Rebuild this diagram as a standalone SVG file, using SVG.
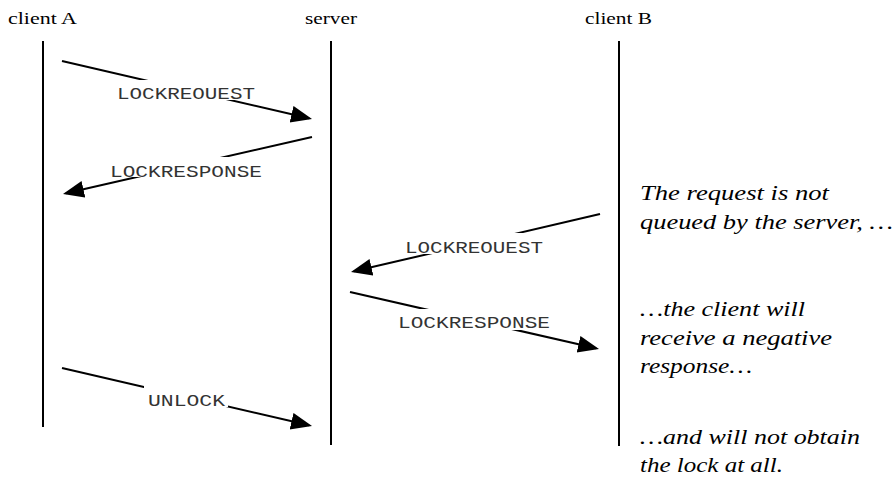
<svg xmlns="http://www.w3.org/2000/svg" width="895" height="485" viewBox="0 0 895 485">
<style>
.hdr{font-family:"Liberation Serif","Times New Roman",serif;font-size:17px;fill:#000}
.lbl{font-family:"Liberation Mono","Courier New",monospace;font-size:17px;fill:#333}
.note{font-family:"Liberation Serif","Times New Roman",serif;font-style:italic;font-size:22px;fill:#000}
.life{stroke:#000;stroke-width:2;fill:none}
.msg{stroke:#000;stroke-width:2;fill:none;marker-end:url(#ah)}
.mask{fill:#fff}
</style>
<defs>
<marker id="ah" markerUnits="userSpaceOnUse" markerWidth="22" markerHeight="18" refX="18" refY="8.5" orient="auto">
<path d="M0,0 L21,8.5 L0,17 z" fill="#000"/>
</marker>
</defs>
<rect width="895" height="485" fill="#fff"/>
<g id="clientA">
<text class="hdr" x="8" y="24" textLength="69" lengthAdjust="spacingAndGlyphs">client A</text>
<line class="life" x1="43" y1="41" x2="43" y2="427"/>
</g>
<g id="server">
<text class="hdr" x="305" y="24" textLength="52" lengthAdjust="spacingAndGlyphs">server</text>
<line class="life" x1="331" y1="41" x2="331" y2="445"/>
</g>
<g id="clientB">
<text class="hdr" x="585" y="24" textLength="67" lengthAdjust="spacingAndGlyphs">client B</text>
<line class="life" x1="619" y1="41" x2="619" y2="446"/>
</g>
<g id="connectors">
<g id="m1">
<line class="msg" x1="62" y1="61" x2="309.1" y2="118.3"/>
<rect class="mask" x="114" y="80" width="145" height="20"/>
<text class="lbl" x="117" y="99" textLength="138" lengthAdjust="spacingAndGlyphs">LOCKREOUEST</text>
</g>
<g id="m2">
<line class="msg" x1="312" y1="137" x2="65.9" y2="193.3"/>
<rect class="mask" x="107" y="157" width="158" height="20"/>
<text class="lbl" x="110" y="177" textLength="152" lengthAdjust="spacingAndGlyphs">LOCKRESPONSE</text>
</g>
<g id="m3">
<line class="msg" x1="600" y1="214" x2="353.9" y2="271.3"/>
<rect class="mask" x="402" y="233" width="144" height="21"/>
<text class="lbl" x="405" y="253" textLength="138" lengthAdjust="spacingAndGlyphs">LOCKREOUEST</text>
</g>
<g id="m4">
<line class="msg" x1="350" y1="292" x2="596.1" y2="348.3"/>
<rect class="mask" x="395" y="309" width="158" height="21"/>
<text class="lbl" x="398" y="328" textLength="152" lengthAdjust="spacingAndGlyphs">LOCKRESPONSE</text>
</g>
<g id="m5">
<line class="msg" x1="62" y1="368" x2="309.1" y2="425.3"/>
<rect class="mask" x="144" y="386" width="84" height="21"/>
<text class="lbl" x="148" y="406" textLength="77" lengthAdjust="spacingAndGlyphs">UNLOCK</text>
</g>
</g>
<g id="notes">
<text class="note" x="640" y="200" textLength="189" lengthAdjust="spacingAndGlyphs">The request is not</text>
<text class="note" x="640" y="228.5" textLength="253" lengthAdjust="spacingAndGlyphs">queued by the server, …</text>
<text class="note" x="640" y="316" textLength="165" lengthAdjust="spacingAndGlyphs">…the client will</text>
<text class="note" x="640" y="344.5" textLength="192" lengthAdjust="spacingAndGlyphs">receive a negative</text>
<text class="note" x="640" y="373" textLength="112" lengthAdjust="spacingAndGlyphs">response…</text>
<text class="note" x="640" y="444" textLength="220" lengthAdjust="spacingAndGlyphs">…and will not obtain</text>
<text class="note" x="640" y="472" textLength="143" lengthAdjust="spacingAndGlyphs">the lock at all.</text>
</g>
</svg>
